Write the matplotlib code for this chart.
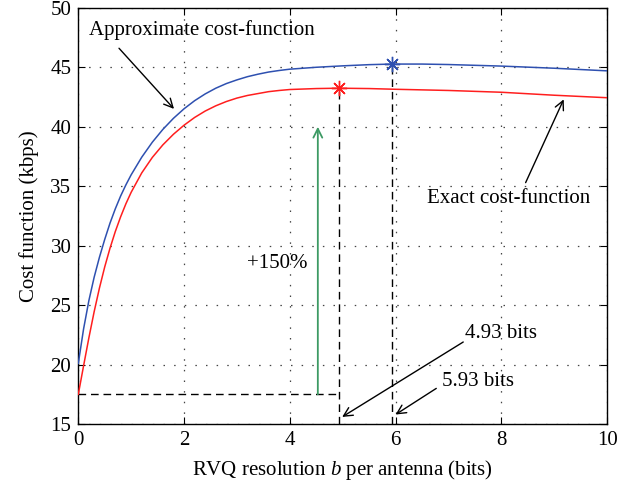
import matplotlib
matplotlib.use("Agg")
import matplotlib.pyplot as plt

plt.rcParams['font.family'] = ['Liberation Serif', 'DejaVu Serif']
plt.rcParams['mathtext.fontset'] = 'custom'
plt.rcParams['mathtext.rm'] = 'Liberation Serif'
plt.rcParams['mathtext.it'] = 'Liberation Serif:italic'

# Approximate cost-function (blue)
approx_x = [0, 0.1, 0.2, 0.3, 0.4, 0.5, 0.6, 0.7, 0.8, 0.9, 1.0, 1.2, 1.4, 1.6, 1.8,
            2.0, 2.2, 2.4, 2.6, 2.8, 3.0, 3.2, 3.4, 3.6, 3.8, 4.0, 4.5, 5.0, 5.5,
            5.93, 6.5, 7, 8, 9, 10]
approx_y = [20.1, 23.0, 25.38, 27.35, 29.03, 30.53, 31.9, 33.1, 34.17, 35.11, 35.96,
            37.44, 38.7, 39.78, 40.71, 41.51, 42.19, 42.76, 43.24, 43.63, 43.94, 44.21,
            44.42, 44.6, 44.73, 44.84, 45.0, 45.12, 45.22, 45.27, 45.27, 45.23, 45.1,
            44.92, 44.7]

# Exact cost-function (red)
exact_x = [0, 0.1, 0.2, 0.3, 0.4, 0.5, 0.6, 0.7, 0.8, 0.9, 1.0, 1.2, 1.4, 1.6, 1.8,
           2.0, 2.2, 2.4, 2.6, 2.8, 3.0, 3.2, 3.4, 3.6, 3.8, 4.0, 4.5, 4.93, 5.5, 6,
           7, 8, 9, 10]
exact_y = [17.5, 19.9, 22.25, 24.45, 26.44, 28.22, 29.79, 31.19, 32.42, 33.52, 34.49,
           36.12, 37.42, 38.48, 39.37, 40.13, 40.78, 41.32, 41.76, 42.12, 42.41, 42.63,
           42.79, 42.95, 43.05, 43.13, 43.21, 43.24, 43.21, 43.15, 43.05, 42.9, 42.65,
           42.44]

opt_exact = (4.93, 43.24)
opt_approx = (5.93, 45.27)
start_exact = 17.5
green_x = 4.53
green_top = 40

xticks = [0, 2, 4, 6, 8, 10]
yticks = [15, 20, 25, 30, 35, 40, 45, 50]

BLUE = '#2e50b0'
RED = '#ff1e1e'
GREEN = '#3d9a64'
FS = 15

fig = plt.figure(figsize=(6.35, 4.88), dpi=100)
ax = fig.add_axes([0.1233, 0.131, 0.8327, 0.853])

ax.plot(approx_x, approx_y, color=BLUE, lw=1.1, zorder=3)
ax.plot(exact_x, exact_y, color=RED, lw=1.1, zorder=3)

ax.plot([opt_exact[0]], [opt_exact[1]], marker=(8, 2, 0), color=RED, ms=11, mew=1.0, zorder=4)
ax.plot([opt_approx[0]], [opt_approx[1]], marker=(8, 2, 0), color=BLUE, ms=11, mew=1.0, zorder=4)

dash = (0, (5.5, 3.5))
ax.plot([0, opt_exact[0]], [start_exact, start_exact], color='k', lw=1.0, ls=dash, zorder=2)
ax.plot([opt_exact[0], opt_exact[0]], [15, opt_exact[1]], color='k', lw=1.0, ls=dash, zorder=2)
ax.plot([opt_approx[0], opt_approx[0]], [15, opt_approx[1]], color='k', lw=1.0, ls=dash, zorder=2)

ax.annotate('', xy=(green_x, green_top), xytext=(green_x, start_exact),
            arrowprops=dict(arrowstyle='->', color=GREEN, lw=1.3, mutation_scale=16,
                            shrinkA=0, shrinkB=0))
ax.text(3.77, 28.5, '+150%', fontsize=FS, ha='center', va='center')

akw = dict(arrowstyle='->', color='k', lw=1.0, mutation_scale=16, shrinkA=0, shrinkB=0)
ax.text(0.2, 48.15, 'Approximate cost-function', fontsize=FS, ha='left', va='center')
ax.annotate('', xy=(1.81, 41.5), xytext=(0.77, 46.6), arrowprops=akw)

ax.text(6.59, 34.0, 'Exact cost-function', fontsize=FS, ha='left', va='center')
ax.annotate('', xy=(9.18, 42.3), xytext=(8.46, 35.3), arrowprops=akw)

ax.text(7.31, 22.6, '4.93 bits', fontsize=FS, ha='left', va='center')
ax.annotate('', xy=(4.99, 15.6), xytext=(7.28, 21.9), arrowprops=akw)

ax.text(6.87, 18.56, '5.93 bits', fontsize=FS, ha='left', va='center')
ax.annotate('', xy=(6.0, 15.8), xytext=(6.77, 18.0), arrowprops=akw)

ax.set_xlim(0, 10)
ax.set_ylim(15, 50)
ax.set_xticks(xticks)
ax.set_yticks(yticks)
ax.tick_params(direction='in', top=True, right=True, labelsize=FS, length=5, width=0.8, pad=5)
ax.grid(True, color='#444444', ls=(0, (1.2, 7.3)), lw=0.9)
for s in ax.spines.values():
    s.set_linewidth(1.0)

ax.set_xlabel('RVQ resolution $b$ per antenna (bits)', fontsize=FS, labelpad=6)
ax.set_ylabel('Cost function (kbps)', fontsize=FS, labelpad=8)

fig.savefig('out.png', dpi=100)
